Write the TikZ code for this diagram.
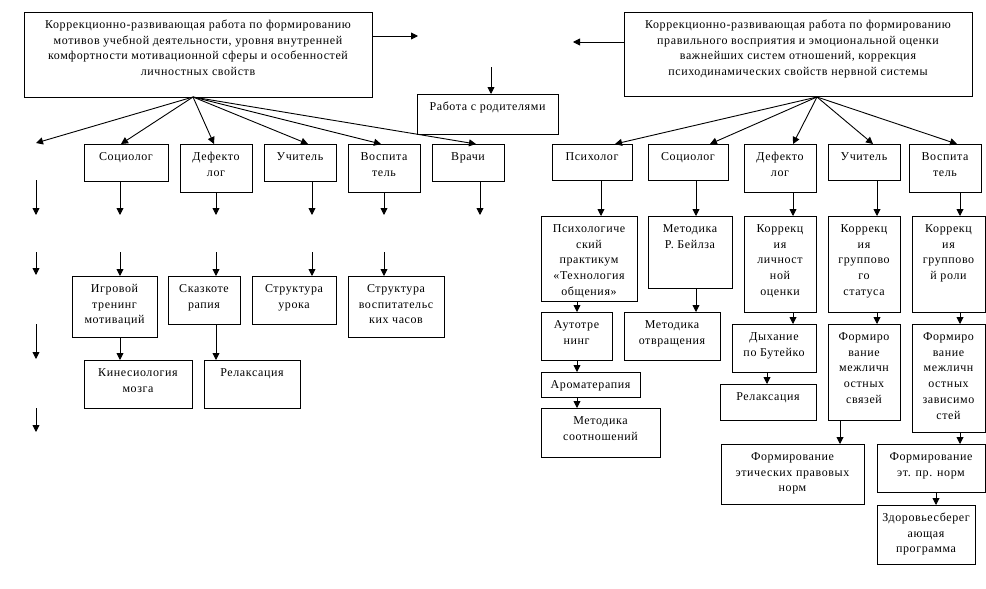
\documentclass[tikz,border=0pt]{standalone}
\usepackage{fontspec}
\setmainfont[LetterSpace=5]{Liberation Serif}
\usetikzlibrary{arrows.meta}
\newcommand\bxt[3]{\parbox[t][#2pt][t]{#1pt}{\centering\rule{0pt}{16.5pt}#3\par}}
\tikzset{
  bx/.style={draw, line width=0.9pt, inner sep=0pt, outer sep=0pt, anchor=north west,
    font=\fontsize{12}{15.7}\selectfont},
  arr/.style={-{Triangle[length=7pt,width=7pt]}, line width=0.9pt}
}
\begin{document}
\begin{tikzpicture}[x=1pt,y=-1pt]
\useasboundingbox[fill=white] (0,0) rectangle (986,589);
% top boxes
\node[bx] (tl) at (24,12) {\bxt{348}{85}{Коррекционно-развивающая работа по формированию\\мотивов учебной деятельности, уровня внутренней\\комфортности мотивационной сферы и особенностей\\личностных свойств}};
\node[bx] (tr) at (624,12) {\bxt{348}{84}{Коррекционно-развивающая работа по формированию\\правильного восприятия и эмоциональной оценки\\важнейших систем отношений, коррекция\\психодинамических свойств нервной системы}};
\node[bx] (par) at (417,94) {\bxt{141}{40}{Работа с родителями}};
\coordinate (m1) at (418,36);
\coordinate (m2) at (573,42);
\coordinate (m3) at (491,67);
\draw[arr] (tl.east |- m1) -- (m1);
\draw[arr] (tr.west |- m2) -- (m2);
\draw[arr] (m3) -- (par.north -| m3);
% left row 1
\node[bx] (ls) at (84,144) {\bxt{84}{37}{Социолог}};
\node[bx] (ld) at (180,144) {\bxt{72}{48}{Дефекто\\лог}};
\node[bx] (lu) at (264,144) {\bxt{72}{37}{Учитель}};
\node[bx] (lv) at (348,144) {\bxt{72}{48}{Воспита\\тель}};
\node[bx] (lw) at (432,144) {\bxt{72}{37}{Врачи}};
\coordinate (fl) at (193,97);
\coordinate (e0) at (36,143);
\draw[arr] (fl) -- (e0);
\draw[arr] (fl) -- (ls.north -| 121,0);
\draw[arr] (fl) -- (ld.north -| 214,0);
\draw[arr] (fl) -- (lu.north -| 308,0);
\draw[arr] (fl) -- (lv.north -| 381,0);
\draw[arr] (fl) -- (lw.north -| 476,0);
% left row 1 arrows
\coordinate (a0s) at (36,180); \coordinate (a0e) at (36,215);
\coordinate (a1) at (120,215); \coordinate (a2) at (216,215);
\coordinate (a3) at (312,215); \coordinate (a4) at (384,215);
\coordinate (a5) at (480,215);
\draw[arr] (a0s) -- (a0e);
\draw[arr] (ls.south -| a1) -- (a1);
\draw[arr] (ld.south -| a2) -- (a2);
\draw[arr] (lu.south -| a3) -- (a3);
\draw[arr] (lv.south -| a4) -- (a4);
\draw[arr] (lw.south -| a5) -- (a5);
% left row 2
\node[bx] (lg) at (72,276) {\bxt{85}{61}{Игровой\\тренинг\\мотиваций}};
\node[bx] (lk) at (168,276) {\bxt{72}{48}{Сказкоте\\рапия}};
\node[bx] (lsu) at (252,276) {\bxt{84}{48}{Структура\\урока}};
\node[bx] (lsv) at (348,276) {\bxt{96}{61}{Структура\\воспитательс\\ких часов}};
\coordinate (b0s) at (36,252); \coordinate (b0e) at (36,275);
\coordinate (b1) at (120,252); \coordinate (b2) at (216,252);
\coordinate (b3) at (312,252); \coordinate (b4) at (384,252);
\draw[arr] (b0s) -- (b0e);
\draw[arr] (b1) -- (lg.north -| b1);
\draw[arr] (b2) -- (lk.north -| b2);
\draw[arr] (b3) -- (lsu.north -| b3);
\draw[arr] (b4) -- (lsv.north -| b4);
% left row 3
\node[bx] (lkin) at (84,360) {\bxt{108}{48}{Кинесиология\\мозга}};
\node[bx] (lrel) at (204,360) {\bxt{96}{48}{Релаксация}};
\draw[arr] (lg.south -| b1) -- (lkin.north -| b1);
\draw[arr] (lk.south -| b2) -- (lrel.north -| b2);
\coordinate (c0s) at (36,324); \coordinate (c0e) at (36,359);
\draw[arr] (c0s) -- (c0e);
\coordinate (d0s) at (36,408); \coordinate (d0e) at (36,432);
\draw[arr] (d0s) -- (d0e);
% right row 1
\node[bx] (rp) at (552,144) {\bxt{80}{36}{Психолог}};
\node[bx] (rs) at (648,144) {\bxt{80}{36}{Социолог}};
\node[bx] (rd) at (744,144) {\bxt{72}{48}{Дефекто\\лог}};
\node[bx] (ru) at (828,144) {\bxt{72}{36}{Учитель}};
\node[bx] (rv) at (909,144) {\bxt{72}{48}{Воспита\\тель}};
\coordinate (fr) at (817,97);
\draw[arr] (fr) -- (rp.north -| 615,0);
\draw[arr] (fr) -- (rs.north -| 710,0);
\draw[arr] (fr) -- (rd.north -| 793,0);
\draw[arr] (fr) -- (ru.north -| 873,0);
\draw[arr] (fr) -- (rv.north -| 957,0);
% right row 2
\node[bx] (rpp) at (541,216) {\bxt{96}{85}{Психологиче\\ский\\практикум\\«Технология\\общения»}};
\node[bx] (rm) at (648,216) {\bxt{84}{72}{Методика\\Р. Бейлза}};
\node[bx] (rk1) at (744,216) {\bxt{72}{96}{Коррекц\\ия\\личност\\ной\\оценки}};
\node[bx] (rk2) at (828,216) {\bxt{72}{96}{Коррекц\\ия\\группово\\го\\статуса}};
\node[bx] (rk3) at (912,216) {\bxt{73}{96}{Коррекц\\ия\\группово\\й роли}};
\draw[arr] (rp.south -| 601,0) -- (rpp.north -| 601,0);
\draw[arr] (rs.south -| 696,0) -- (rm.north -| 696,0);
\draw[arr] (rd.south -| 793,0) -- (rk1.north -| 793,0);
\draw[arr] (ru.south -| 877,0) -- (rk2.north -| 877,0);
\draw[arr] (rv.south -| 960,0) -- (rk3.north -| 960,0);
% right lower
\node[bx] (rauto) at (541,312) {\bxt{71}{48}{Аутотре\\нинг}};
\node[bx] (rmo) at (624,312) {\bxt{96}{48}{Методика\\отвращения}};
\node[bx] (raro) at (541,372) {\bxt{99}{25}{Ароматерапия}};
\node[bx] (rms) at (541,408) {\bxt{119}{49}{Методика\\соотношений}};
\node[bx] (rdy) at (732,324) {\bxt{84}{48}{Дыхание\\по Бутейко}};
\node[bx] (rrel) at (720,384) {\bxt{96}{36}{Релаксация}};
\node[bx] (rf1) at (828,324) {\bxt{72}{96}{Формиро\\вание\\межличн\\остных\\связей}};
\node[bx] (rf2) at (912,324) {\bxt{73}{108}{Формиро\\вание\\межличн\\остных\\зависимо\\стей}};
\node[bx] (ret) at (721,444) {\bxt{143}{60}{Формирование\\этических правовых\\норм}};
\node[bx] (rep) at (877,444) {\bxt{108}{48}{Формирование\\эт. пр. норм}};
\node[bx] (rz) at (877,505) {\bxt{98}{59}{Здоровьесберег\\ающая\\программа}};
\draw[arr] (rpp.south -| 577,0) -- (rauto.north -| 577,0);
\draw[arr] (rm.south -| 696,0) -- (rmo.north -| 696,0);
\draw[arr] (rauto.south -| 577,0) -- (raro.north -| 577,0);
\draw[arr] (raro.south -| 577,0) -- (rms.north -| 577,0);
\draw[arr] (rk1.south -| 793,0) -- (rdy.north -| 793,0);
\draw[arr] (rdy.south -| 767,0) -- (rrel.north -| 767,0);
\draw[arr] (rk2.south -| 877,0) -- (rf1.north -| 877,0);
\draw[arr] (rk3.south -| 960,0) -- (rf2.north -| 960,0);
\draw[arr] (rf1.south -| 840,0) -- (ret.north -| 840,0);
\draw[arr] (rf2.south -| 960,0) -- (rep.north -| 960,0);
\draw[arr] (rep.south -| 936,0) -- (rz.north -| 936,0);
\end{tikzpicture}
\end{document}
